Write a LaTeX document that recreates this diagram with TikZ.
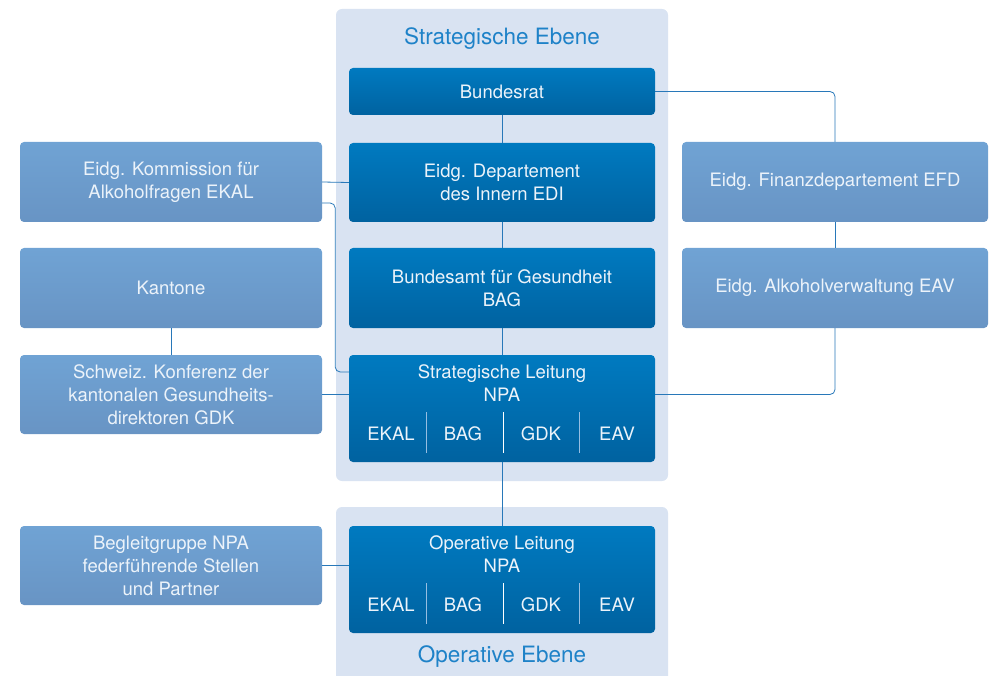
\documentclass[tikz,border=0pt]{standalone}
\usepackage{fontspec}
\setmainfont{TeX Gyre Heros}
\usetikzlibrary{calc}

\definecolor{ebene}{RGB}{217,227,242}
\definecolor{amtoben}{RGB}{0,122,192}
\definecolor{amtunten}{RGB}{0,98,160}
\definecolor{partneroben}{RGB}{112,163,212}
\definecolor{partnerunten}{RGB}{104,148,196}
\definecolor{linie}{RGB}{40,120,185}
\definecolor{titel}{RGB}{30,130,200}
\definecolor{schrift}{RGB}{236,243,250}
\definecolor{trenner}{RGB}{150,190,226}

\newcommand{\grundschrift}{\fontsize{18.5}{23}\selectfont}
\newcommand{\titelschrift}{\fontsize{22.5}{26}\selectfont}

\tikzset{
	kasten/.style={rounded corners=4pt, inner sep=0pt, align=center,
		text=schrift, font=\grundschrift},
	amt/.style={kasten, top color=amtoben, bottom color=amtunten,
		minimum width=306pt},
	partner/.style={kasten, top color=partneroben, bottom color=partnerunten,
		minimum height=80pt},
	links/.style={partner, minimum width=302pt},
	rechts/.style={partner, minimum width=306pt},
	kurz/.style={text=schrift, font=\grundschrift, inner sep=0pt},
	ebenentitel/.style={text=titel, font=\titelschrift, inner sep=0pt},
	verbindung/.style={draw=linie, line width=0.8pt, rounded corners=5pt},
}

\begin{document}
\begin{tikzpicture}[x=1pt, y=-1pt]
	\useasboundingbox (0,0) rectangle (995,676);

	% Ebenen
	\fill[ebene, rounded corners=6pt] (336,9) rectangle (668,481);
	\fill[ebene, rounded corners=6pt] (336,507) rectangle (668,700);
	\node[ebenentitel] (strat) at (502,39) {Strategische Ebene};
	\node[ebenentitel] (oper) at (502,657) {Operative Ebene};

	% Bund
	\node[amt, minimum height=47pt] (br) at (502,91.5) {Bundesrat};
	\node[amt, minimum height=79pt] (edi) at (502,182.5) {Eidg. Departement\\des Innern EDI};
	\node[amt, minimum height=80pt] (bag) at (502,288) {Bundesamt für Gesundheit\\BAG};
	\node[amt, minimum height=107pt] (sl) at (502,408.5) {};
	\node[amt, minimum height=107pt] (ol) at (502,579.5) {};
	\node[kurz, align=center] (slt) at ([yshift=25pt]sl.center) {Strategische Leitung\\NPA};
	\node[kurz, align=center] (olt) at ([yshift=25pt]ol.center) {Operative Leitung\\NPA};

	\foreach \leit in {sl,ol}{
		\foreach \kurzname/\dx in {EKAL/-111,BAG/-39,GDK/39,EAV/115}
			\node[kurz] (\leit-\kurzname) at ([xshift=\dx pt,yshift=-25.5pt]\leit.center) {\kurzname};
		\foreach \dx/\farbe in {-76/trenner,1/white,77/trenner}
			\draw[\farbe, line width=1pt] ([xshift=\dx pt,yshift=-3.5pt]\leit.center) -- ++(0,41);
	}

	% Partner links
	\node[links] (ekal) at (171,182) {Eidg. Kommission für\\Alkoholfragen EKAL};
	\node[links] (kant) at (171,288) {Kantone};
	\node[links, minimum height=79pt] (gdk) at (171,394.5) {Schweiz. Konferenz der\\kantonalen Gesundheits-\\direktoren GDK};
	\node[links, minimum height=79pt] (begl) at (171,565.5) {Begleitgruppe NPA\\federführende Stellen\\und Partner};

	% Partner rechts
	\node[rechts] (efd) at (835,182) {Eidg. Finanzdepartement EFD};
	\node[rechts] (eav) at (835,288) {Eidg. Alkoholverwaltung EAV};

	% Verbindungen
	\draw[verbindung] (br) -- (edi);
	\draw[verbindung] (edi) -- (bag);
	\draw[verbindung] (bag) -- (sl);
	\draw[verbindung] (sl) -- (ol);
	\draw[verbindung] (br.east) -| (efd.north);
	\draw[verbindung] (efd) -- (eav);
	\draw[verbindung] (eav.south) |- (gdk.east -| sl.east);
	\draw[verbindung] (ekal.east) -- (edi.west);
	\draw[verbindung] ([yshift=-21pt]ekal.east) -- ++(13,0) |- ([yshift=36.5pt]sl.west);
	\draw[verbindung] (kant) -- (gdk);
	\draw[verbindung] (gdk.east) -- (gdk.east -| sl.west);
	\draw[verbindung] (begl.east) -- (begl.east -| ol.west);
\end{tikzpicture}
\end{document}
